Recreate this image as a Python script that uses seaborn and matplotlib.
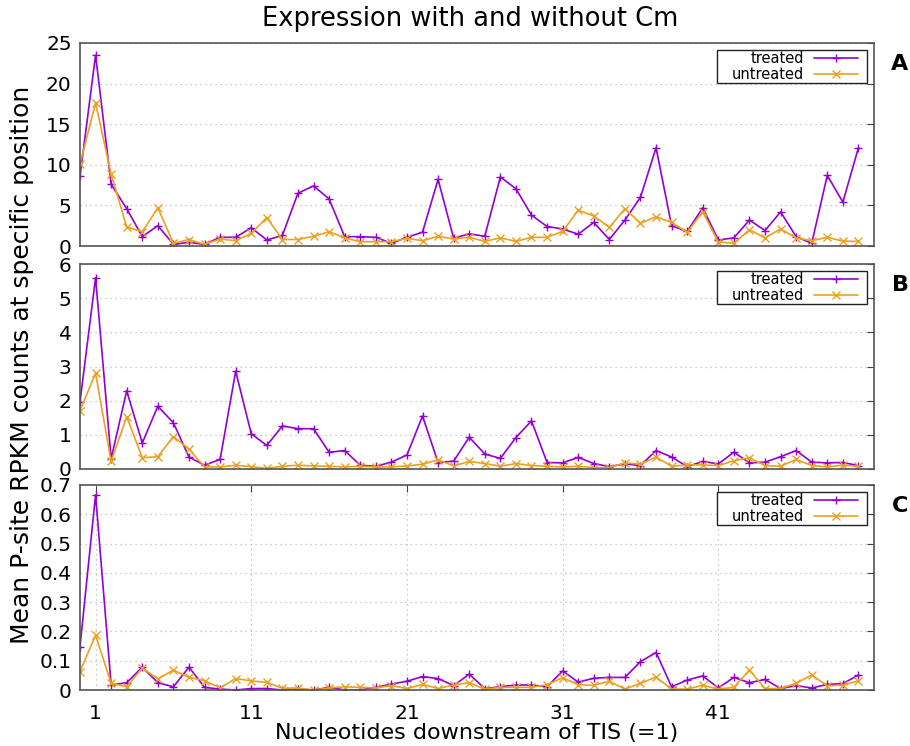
import numpy as np
import pandas as pd
import matplotlib
matplotlib.use("Agg")
import matplotlib.pyplot as plt
from matplotlib.offsetbox import HPacker, DrawingArea
import seaborn as sns

positions = list(range(0, 51))

treated_A = [8.6, 23.5, 7.6, 4.6, 1.15, 2.5, 0.2, 0.45, 0.2, 1.07, 1.07, 2.25, 0.74, 1.3, 6.5,
             7.4, 5.8, 1.15, 1.15, 1.07, 0.33, 1.07, 1.7, 8.2, 0.95, 1.5, 1.2, 8.5, 7.05, 3.8,
             2.4, 2.1, 1.45, 2.9, 0.8, 3.2, 6.0, 12.1, 2.5, 1.8, 4.7, 0.74, 1.0, 3.2, 1.9,
             4.2, 1.15, 0.33, 8.7, 5.4, 12.1]
untreated_A = [10.1, 17.6, 8.85, 2.35, 1.75, 4.7, 0.33, 0.8, 0.2, 0.86, 0.65, 1.55, 3.5, 0.8, 0.8,
               1.2, 1.75, 1.0, 0.53, 0.53, 0.53, 0.95, 0.65, 1.2, 0.86, 1.07, 0.57, 1.0, 0.57, 1.07,
               1.07, 1.8, 4.4, 3.7, 2.3, 4.6, 2.8, 3.6, 2.9, 1.7, 4.2, 0.5, 0.33, 2.0, 1.0,
               2.1, 1.0, 0.65, 1.07, 0.6, 0.57]

treated_B = [1.96, 5.6, 0.3, 2.29, 0.76, 1.84, 1.35, 0.35, 0.11, 0.28, 2.86, 1.03, 0.69, 1.26, 1.18,
             1.18, 0.49, 0.54, 0.11, 0.08, 0.2, 0.41, 1.55, 0.19, 0.23, 0.93, 0.44, 0.31, 0.92, 1.41,
             0.19, 0.18, 0.34, 0.16, 0.07, 0.15, 0.1, 0.54, 0.35, 0.07, 0.22, 0.15, 0.49, 0.18, 0.2,
             0.36, 0.54, 0.2, 0.18, 0.19, 0.1]
untreated_B = [1.71, 2.8, 0.22, 1.53, 0.33, 0.36, 0.95, 0.58, 0.06, 0.06, 0.11, 0.07, 0.02, 0.08, 0.11,
               0.09, 0.08, 0.06, 0.08, 0.06, 0.06, 0.09, 0.14, 0.27, 0.09, 0.22, 0.16, 0.08, 0.16, 0.1,
               0.08, 0.06, 0.08, 0.04, 0.04, 0.18, 0.14, 0.35, 0.08, 0.12, 0.12, 0.1, 0.24, 0.33, 0.1,
               0.08, 0.28, 0.1, 0.06, 0.11, 0.08]

treated_C = [0.148, 0.666, 0.017, 0.025, 0.078, 0.025, 0.011, 0.078, 0.009, 0.003, 0.0, 0.005, 0.005, 0.0, 0.002,
             0.0, 0.009, 0.0, 0.0, 0.009, 0.02, 0.03, 0.046, 0.039, 0.015, 0.054, 0.005, 0.011, 0.017, 0.017,
             0.011, 0.065, 0.027, 0.04, 0.043, 0.043, 0.097, 0.128, 0.011, 0.034, 0.048, 0.007, 0.043, 0.025, 0.036,
             0.005, 0.015, 0.007, 0.019, 0.022, 0.051]
untreated_C = [0.063, 0.187, 0.023, 0.011, 0.075, 0.038, 0.068, 0.043, 0.032, 0.007, 0.039, 0.031, 0.026, 0.006, 0.007,
               0.0, 0.007, 0.011, 0.009, 0.007, 0.015, 0.005, 0.019, 0.005, 0.017, 0.025, 0.003, 0.009, 0.009, 0.009,
               0.018, 0.042, 0.018, 0.016, 0.03, 0.003, 0.023, 0.044, 0.003, 0.003, 0.016, 0.003, 0.009, 0.068, 0.005,
               0.005, 0.023, 0.051, 0.014, 0.017, 0.031]

series_names = ["treated", "untreated"]
panel_letters = ["A", "B", "C"]
y_limits = [(0, 25), (0, 6), (0, 0.7)]
y_ticks = [[0, 5, 10, 15, 20, 25], [0, 1, 2, 3, 4, 5, 6], [0, 0.1, 0.2, 0.3, 0.4, 0.5, 0.6, 0.7]]
y_ticklabels_C = ["0", "0.1", "0.2", "0.3", "0.4", "0.5", "0.6", "0.7"]
x_ticks = [1, 11, 21, 31, 41]

sns.set_style("white")
plt.rcParams['font.family'] = ['DejaVu Sans']
plt.rcParams['text.color'] = 'black'
plt.rcParams['axes.labelcolor'] = 'black'
plt.rcParams['xtick.color'] = 'black'
plt.rcParams['ytick.color'] = 'black'

purple = "#9400d3"
orange = "#eba11f"
marker_map = {"treated": "+", "untreated": "x"}
color_map = {"treated": purple, "untreated": orange}

fig = plt.figure(figsize=(9.1, 7.46), dpi=100)
W, H = 910, 746
boxes = [(43, 246), (264, 469), (485, 690)]
left_px, right_px = 80, 874

series = [(treated_A, untreated_A), (treated_B, untreated_B), (treated_C, untreated_C)]

for i, ((top, bot), (tr, un)) in enumerate(zip(boxes, series)):
    ax = fig.add_axes([left_px / W, 1 - bot / H, (right_px - left_px) / W, (bot - top) / H])
    df = pd.DataFrame({
        "pos": positions * 2,
        "value": list(tr) + list(un),
        "condition": ["treated"] * len(tr) + ["untreated"] * len(un),
    })
    sns.lineplot(data=df, x="pos", y="value", hue="condition", hue_order=series_names,
                 palette=color_map, linewidth=1.2, legend=False, ax=ax)
    lines = list(ax.lines)[:2]
    for ln, name in zip(lines, series_names):
        ln.set_marker(marker_map[name])
        ln.set_markersize(5.5)
        ln.set_markeredgewidth(1.0)
        ln.set_markeredgecolor(color_map[name])
        ln.set_markerfacecolor(color_map[name])
    ax.set_xlim(0, 51)
    ax.set_ylim(*y_limits[i])
    ax.set_yticks(y_ticks[i])
    if i == 2:
        ax.set_yticklabels(y_ticklabels_C)
    ax.set_xticks(x_ticks)
    ax.set_xlabel("")
    ax.set_ylabel("")
    ax.tick_params(axis="both", direction="in", labelsize=14.5, length=5, color="#444444",
                   right=True)
    ax.tick_params(axis="y", pad=6)
    ax.tick_params(axis="x", pad=10)
    if i < 2:
        ax.tick_params(axis="x", bottom=False, labelbottom=False)
        ax.grid(axis="y", linestyle=(0, (1, 3)), color="#bbbbbb", linewidth=0.9)
    else:
        ax.tick_params(axis="x", top=True)
        ax.grid(axis="both", linestyle=(0, (1, 3)), color="#bbbbbb", linewidth=0.9)
    for s in ax.spines.values():
        s.set_color("#555555")
        s.set_linewidth(1.2)
    leg = ax.legend(lines, series_names, loc="upper right", markerfirst=False, fontsize=10.5,
                    frameon=True, fancybox=False, edgecolor="#222222", framealpha=1,
                    handlelength=3.0, handletextpad=0.7, labelspacing=0.05,
                    borderpad=0.1, borderaxespad=0.45)
    try:
        hb = leg._legend_handle_box
        padded = HPacker(pad=0, sep=0, align="center",
                         children=[DrawingArea(9, 1), hb, DrawingArea(6, 1)])
        padded.set_figure(fig)
        kids = leg._legend_box._children
        kids[kids.index(hb)] = padded
    except Exception:
        pass
    leg.get_frame().set_linewidth(1.0)
    fig.text(900 / W, 1 - (top + 21) / H, panel_letters[i], fontsize=16, fontweight="bold",
             ha="center", va="center")

fig.text(470 / W, 1 - 19 / H, "Expression with and without Cm", fontsize=18.5, ha="center", va="center")
fig.text(477 / W, 1 - 733 / H, "Nucleotides downstream of TIS (=1)", fontsize=16, ha="center", va="center")
fig.text(22 / W, 1 - 365 / H, "Mean P-site RPKM counts at specific position", fontsize=18,
         rotation=90, ha="center", va="center")

fig.savefig("out.png", dpi=100)
